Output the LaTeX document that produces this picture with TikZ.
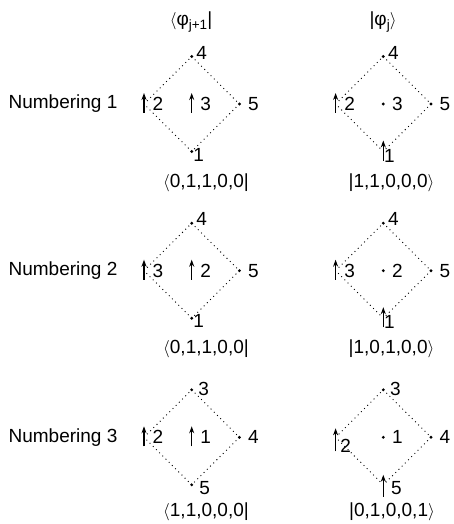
\documentclass[tikz,border=0pt]{standalone}
\usepackage{fontspec}
\setmainfont{Liberation Sans}
\usetikzlibrary{arrows.meta}
\tikzset{
  txt/.style={inner sep=0pt, font=\fontsize{19}{21}\selectfont},
  dotline/.style={line width=1.3pt, line cap=round, dash pattern=on 0pt off 4.5pt, shorten <=4pt, shorten >=4pt},
  arr/.style={line width=1.4pt, -{Stealth[length=7pt,width=5pt]}},
  vdot/.style={fill=black}
}
% #1 prefix, #2 cx, #3 cy
\newcommand\mkdiamond[3]{%
  \coordinate (#1c) at (#2,#3);
  \coordinate (#1t) at (#2,#3-47.5);
  \coordinate (#1b) at (#2,#3+47.5);
  \coordinate (#1l) at (#2-47.7,#3);
  \coordinate (#1r) at (#2+47.7,#3);
  \draw[dotline] (#1t) -- (#1l);
  \draw[dotline] (#1l) -- (#1b);
  \draw[dotline] (#1b) -- (#1r);
  \draw[dotline] (#1r) -- (#1t);
  \fill[vdot] (#1t) circle (1.6);
  \fill[vdot] (#1r) circle (1.6);
}
\newcommand\uparr[3]{% coordinate, down extent, up extent
  \draw[arr] ([yshift=-#2pt]#1) -- ([yshift=#3pt]#1);
}
\begin{document}
\begin{tikzpicture}[x=1pt,y=-1pt]
\fill[white] (0,0) rectangle (454,524);
\useasboundingbox (0,0) rectangle (454,524);

% headers
\node[txt] (h1) at (191,22) {$\langle$φ\raisebox{-0.45ex}{\fontsize{13.5}{13.5}\selectfont j+1}|};
\node[txt] (h2) at (383,22) {|φ\raisebox{-0.45ex}{\fontsize{13.5}{13.5}\selectfont j}$\rangle$};

% row labels
\node[txt] (n1) at (63,104) {Numbering 1};
\node[txt] (n2) at (63,270.7) {Numbering 2};
\node[txt] (n3) at (63,437.3) {Numbering 3};

% ---------- Row 1 ----------
\mkdiamond{a}{191.7}{104}
\fill[vdot] (ab) circle (1.6);
\uparr{al}{9}{11}
\uparr{ac}{9}{11}
\node[txt] (a4) at ([shift={(10,-4)}]at) {4};
\node[txt] (a5) at ([shift={(14,0)}]ar) {5};
\node[txt] (a1) at ([shift={(7,3)}]ab) {1};
\node[txt] (a2) at ([shift={(14,0)}]al) {2};
\node[txt] (a3) at ([shift={(14,0)}]ac) {3};
\node[txt] (abra) at (206,183) {$\langle$0,1,1,0,0|};

\mkdiamond{b}{383.3}{104}
\fill[vdot] (bc) circle (1.6);
\uparr{bl}{9}{11}
\uparr{bb}{9}{11}
\node[txt] (b4) at ([shift={(10,-4)}]bt) {4};
\node[txt] (b5) at ([shift={(14,0)}]br) {5};
\node[txt] (b1) at ([shift={(6,4)}]bb) {1};
\node[txt] (b2) at ([shift={(14,0)}]bl) {2};
\node[txt] (b3) at ([shift={(14,0)}]bc) {3};
\node[txt] (bket) at (391.5,183) {|1,1,0,0,0$\rangle$};

% ---------- Row 2 ----------
\mkdiamond{c}{191.7}{270.7}
\fill[vdot] (cb) circle (1.6);
\uparr{cl}{9}{11}
\uparr{cc}{9}{11}
\node[txt] (c4) at ([shift={(10,-4)}]ct) {4};
\node[txt] (c5) at ([shift={(14,0)}]cr) {5};
\node[txt] (c1) at ([shift={(7,3)}]cb) {1};
\node[txt] (c3) at ([shift={(14,0)}]cl) {3};
\node[txt] (c2) at ([shift={(14,0)}]cc) {2};
\node[txt] (cbra) at (206,349) {$\langle$0,1,1,0,0|};

\mkdiamond{d}{383.3}{270.7}
\fill[vdot] (dc) circle (1.6);
\uparr{dl}{9}{11}
\uparr{db}{9}{11}
\node[txt] (d4) at ([shift={(10,-4)}]dt) {4};
\node[txt] (d5) at ([shift={(14,0)}]dr) {5};
\node[txt] (d1) at ([shift={(6,4)}]db) {1};
\node[txt] (d3) at ([shift={(14,0)}]dl) {3};
\node[txt] (d2) at ([shift={(14,0)}]dc) {2};
\node[txt] (dket) at (391.5,349) {|1,0,1,0,0$\rangle$};

% ---------- Row 3 ----------
\mkdiamond{e}{191.7}{437.3}
\fill[vdot] (eb) circle (1.6);
\uparr{el}{9}{11}
\uparr{ec}{9}{11}
\node[txt] (e3) at ([shift={(12,-1)}]et) {3};
\node[txt] (e4) at ([shift={(14,0)}]er) {4};
\node[txt] (e5) at ([shift={(13,3)}]eb) {5};
\node[txt] (e2) at ([shift={(14,0)}]el) {2};
\node[txt] (e1) at ([shift={(14,0)}]ec) {1};
\node[txt] (ebra) at (206,512) {$\langle$1,1,0,0,0|};

\mkdiamond{f}{383.3}{437.3}
\fill[vdot] (fc) circle (1.6);
\uparr{fl}{14}{9}
\uparr{fb}{12}{10}
\node[txt] (f3) at ([shift={(12,-1)}]ft) {3};
\node[txt] (f4) at ([shift={(14,0)}]fr) {4};
\node[txt] (f5) at ([shift={(13,3)}]fb) {5};
\node[txt] (f2) at ([shift={(10,9)}]fl) {2};
\node[txt] (f1) at ([shift={(14,0)}]fc) {1};
\node[txt] (fket) at (392,512) {|0,1,0,0,1$\rangle$};
\end{tikzpicture}
\end{document}
